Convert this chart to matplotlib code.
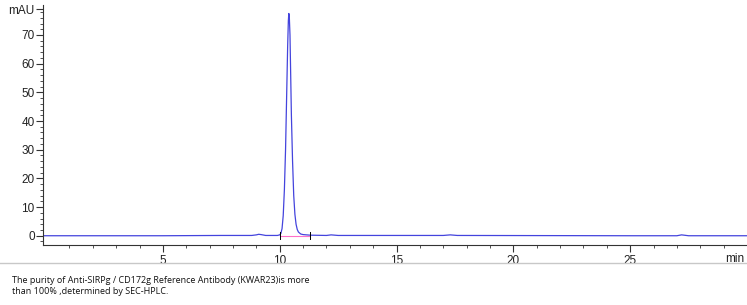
import matplotlib
matplotlib.use("Agg")
import matplotlib.pyplot as plt
from matplotlib.lines import Line2D

# chromatogram (time in min, signal in mAU)
time_min = [-0.2, 2.0, 5.0, 7.5, 8.8, 9.0, 9.1, 9.2, 9.4, 9.9, 10.0, 10.05, 10.1,
            10.15, 10.2, 10.25, 10.3, 10.34, 10.37, 10.39, 10.41, 10.44, 10.47,
            10.5, 10.55, 10.6, 10.65, 10.7, 10.75, 10.8, 10.9, 11.0, 11.3,
            12.0, 12.2, 12.5, 17.0, 17.3, 17.6, 25.0, 27.0, 27.2, 27.5, 30.2]
signal_mau = [0.0, 0.0, 0.0, 0.1, 0.1, 0.3, 0.5, 0.4, 0.1, 0.1, 0.3, 0.8, 2.5,
              7.0, 16.0, 30.0, 50.0, 66.0, 75.0, 77.5, 76.5, 70.0, 56.0,
              42.0, 26.0, 14.0, 7.5, 4.0, 2.2, 1.3, 0.6, 0.4, 0.2,
              0.1, 0.3, 0.1, 0.1, 0.3, 0.1, 0.0, 0.0, 0.3, 0.0, 0.0]

baseline_start, baseline_end = 10.0, 11.3
x_major = [5, 10, 15, 20, 25]
y_major = [0, 10, 20, 30, 40, 50, 60, 70]

caption = ("The purity of Anti-SIRPg / CD172g Reference Antibody (KWAR23)is more\n"
           "than 100% ,determined by SEC-HPLC.")

plt.rcParams["font.family"] = ["Liberation Sans", "DejaVu Sans"]

fig = plt.figure(figsize=(7.47, 3.05), dpi=100)
ax = fig.add_axes([0.0576, 0.197, 0.9424, 0.787])

ax.plot(time_min, signal_mau, color="#4444dd", lw=0.9)
ax.plot([baseline_start, baseline_end], [0.05, 0.05], color="#ff70c8", lw=0.8)
# integration markers
ax.plot([baseline_start, baseline_start], [-1.2, 1.2], color="black", lw=0.7)
ax.plot([baseline_end, baseline_end], [-1.2, 1.2], color="black", lw=0.7)

ax.set_xlim(-0.13, 30.0)
ax.set_ylim(-3.2, 80.5)

ax.set_xticks(x_major)
ax.set_xticks(range(1, 30), minor=True)
ax.set_yticks(y_major + [79])
ax.set_yticklabels([str(v) for v in y_major] + ["mAU"])
ax.set_yticks(range(-2, 80, 2), minor=True)

ax.tick_params(axis="both", which="major", length=5, width=0.8, labelsize=8.5,
               color="#333333", labelcolor="#222222")
ax.tick_params(axis="both", which="minor", length=2.5, width=0.6, color="#333333")
ax.tick_params(axis="x", pad=2)
ax.tick_params(axis="y", pad=1)

for side in ["top", "right"]:
    ax.spines[side].set_visible(False)
for side in ["left", "bottom"]:
    ax.spines[side].set_color("#333333")
    ax.spines[side].set_linewidth(0.8)

fig.text(0.997, 0.14, "min", fontsize=8.5, color="#222222", ha="right")

# separator line under the chart
fig.add_artist(Line2D([0, 1], [0.138, 0.138], color="#c8c8c8", lw=1.0))

fig.text(0.016, 0.035, caption, fontsize=6.5, color="#111111",
         family=["Open Sans", "DejaVu Sans"], linespacing=1.3)

fig.savefig("out.png", dpi=100)
